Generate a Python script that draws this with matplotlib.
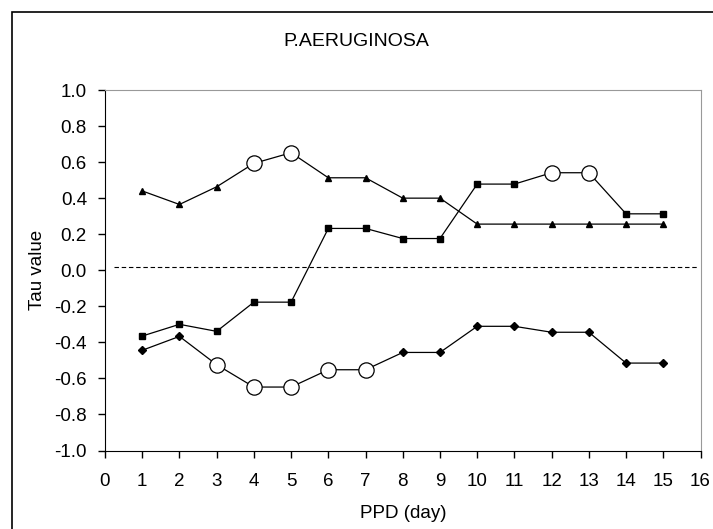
import matplotlib
matplotlib.use("Agg")
import matplotlib.pyplot as plt
from matplotlib.patches import Rectangle

plt.rcParams['font.family'] = ['Liberation Sans', 'DejaVu Sans']

# data
days = list(range(1, 16))
tau_triangle = [0.44, 0.365, 0.463, 0.593, 0.652, 0.513, 0.513, 0.40, 0.40,
                0.256, 0.256, 0.256, 0.256, 0.256, 0.256]
tau_square = [-0.365, -0.30, -0.339, -0.177, -0.177, 0.232, 0.232, 0.176, 0.176,
              0.478, 0.478, 0.541, 0.541, 0.313, 0.313]
tau_diamond = [-0.444, -0.367, -0.524, -0.648, -0.648, -0.552, -0.552, -0.456, -0.456,
               -0.311, -0.311, -0.344, -0.344, -0.515, -0.515]
# days drawn with a large open circle (significant)
sig_triangle = [4, 5]
sig_square = [12, 13]
sig_diamond = [3, 4, 5, 6, 7]
ref_level = 0.017

fig = plt.figure(figsize=(7.13, 5.29), dpi=100)
ax = fig.add_axes([105 / 713, 1 - 450.5 / 529, 595.5 / 713, 360.5 / 529])

series = [(tau_triangle, '^', sig_triangle),
          (tau_square, 's', sig_square),
          (tau_diamond, 'D', sig_diamond)]
for vals, mk, sig in series:
    ax.plot(days, vals, color='black', lw=0.9, zorder=2)
    nx = [d for d in days if d not in sig]
    ny = [v for d, v in zip(days, vals) if d not in sig]
    ms = 3.6 if mk == 'D' else 4.6
    ax.plot(nx, ny, ls='none', marker=mk, color='black', ms=ms, zorder=3)
    sx = [d for d in days if d in sig]
    sy = [v for d, v in zip(days, vals) if d in sig]
    ax.plot(sx, sy, ls='none', marker='o', ms=11, mfc='white', mec='black',
            mew=0.9, zorder=4)

ax.plot([0.24, 15.9], [ref_level, ref_level], color='black', lw=0.8,
        ls=(0, (4, 2.5)), zorder=1)

ax.set_xlim(0, 16)
ax.set_ylim(-1.0, 1.0)
ax.set_xticks(range(0, 17))
ax.set_yticks([-1.0, -0.8, -0.6, -0.4, -0.2, 0.0, 0.2, 0.4, 0.6, 0.8, 1.0])
ax.set_yticklabels([f"{v:.1f}" for v in ax.get_yticks()])
ax.tick_params(direction='out', length=5, width=1, labelsize=13.5,
               top=False, right=False)
ax.tick_params(axis='x', pad=11)
ax.tick_params(axis='y', pad=8)
for s in ['top', 'right']:
    ax.spines[s].set_color('#999999')
for s in ['left', 'bottom']:
    ax.spines[s].set_color('black')

ax.set_xlabel('PPD (day)', fontsize=13.5, labelpad=11)
ax.set_ylabel('Tau value', fontsize=13.5, labelpad=6)
fig.text(356 / 713, 1 - 41 / 529, 'P.AERUGINOSA', ha='center', va='center',
         fontsize=14)

fig.patches.append(Rectangle((12 / 713, -0.05), 1.1, 1 - 12 / 529 + 0.05,
                             transform=fig.transFigure, fill=False,
                             edgecolor='black', lw=1.2))

fig.savefig('out.png', dpi=100)
